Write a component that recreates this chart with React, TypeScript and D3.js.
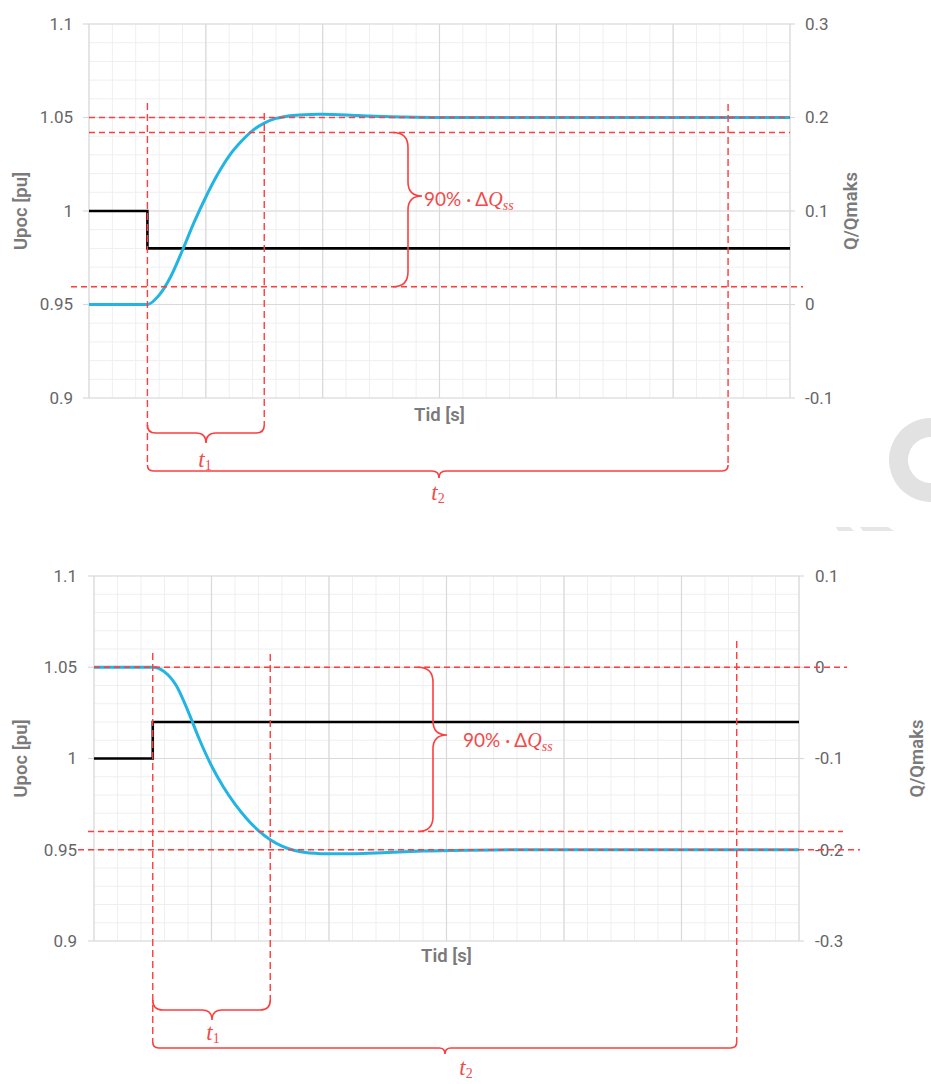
import React from 'react';
import * as d3 from 'd3';

// ---------- data ----------
const timeDomain = [0, 60];
const timeMajorStep = 10;
const timeMinorStep = 2;

const uDomain = [0.9, 1.1];
const uTicks = [0.9, 0.95, 1.0, 1.05, 1.1];
const uTickLabels = ['0.9', '0.95', '1', '1.05', '1.1'];

const qDomainTop = [-0.1, 0.3];
const qTicksTop = [-0.1, 0, 0.1, 0.2, 0.3];
const qTickLabelsTop = ['-0.1', '0', '0.1', '0.2', '0.3'];

const qDomainBottom = [-0.3, 0.1];
const qTicksBottom = [-0.3, -0.2, -0.1, 0, 0.1];
const qTickLabelsBottom = ['-0.3', '-0.2', '-0.1', '0', '0.1'];

const qTimeTop = [0, 5, 6, 7, 8, 9, 10, 11, 12, 13, 14, 15, 16, 17, 18, 19, 20, 22, 24, 27, 30, 60];
const qValTop = [0, 0, 0.01, 0.03, 0.058, 0.088, 0.115, 0.139, 0.159, 0.174, 0.186, 0.194, 0.199, 0.2015, 0.2028, 0.2033, 0.2034, 0.2028, 0.2015, 0.2005, 0.2, 0.2];
const uTimeTop = [0, 5, 5, 60];
const uValTop = [1.0, 1.0, 0.98, 0.98];

const qTimeBottom = [0, 5, 6, 7, 8, 9, 10, 11, 12, 13, 14, 15, 16, 17, 18, 19, 20, 22, 25, 28, 32, 36, 60];
const qValBottom = [0, 0, -0.005, -0.02, -0.048, -0.08, -0.108, -0.131, -0.15, -0.166, -0.179, -0.189, -0.196, -0.2005, -0.203, -0.204, -0.2045, -0.2045, -0.203, -0.2015, -0.2005, -0.2, -0.2];
const uTimeBottom = [0, 5, 5, 60];
const uValBottom = [1.0, 1.0, 1.02, 1.02];

const stepTime = 5;
const t1Time = 15;
const t2Time = 54.7;

const bandLevelsTop = [0.2, 0.184, 0.019];
const bandLevelsBottom = [0, -0.18, -0.2];

const bandLabelMain = '90% · Δ';
const bandLabelQ = 'Q';
const bandLabelSub = 'ss';
const xTitle = 'Tid [s]';
const yLeftTitle = 'Upoc [pu]';
const yRightTitle = 'Q/Qmaks';

// ---------- layout ----------
const RED = '#ff3d3d';
const RED_TEXT = '#f24a4a';
const BLUE = '#22b4e3';
const GRID_MINOR = '#efefef';
const GRID_MAJOR = '#d9d9d9';
const LABEL = '#666666';
const TITLE = '#7a7a7a';

type Layout = {
  x0: number; x1: number; y0: number; y1: number;
  qDomain: number[]; qTicks: number[]; qLabels: string[];
  qTime: number[]; qVal: number[]; uTime: number[]; uVal: number[];
  bands: number[];
  bandExt: [number, number][];
  vTop: number[];
  braceIdx: [number, number];
  brace: { xe: number; xs: number; xt: number; yt: number };
  bandText: { x: number; y: number };
  t1: { y: number; e: number; tip: number; xt: number; lx: number; ly: number };
  t2: { y: number; e: number; tip: number; xt: number; lx: number; ly: number };
  xTitleY: number; leftTitleX: number; rightTitleX: number; leftLabX: number; rightLabX: number;
};

const layouts: Layout[] = [
  {
    x0: 89, x1: 790, y0: 24, y1: 398,
    qDomain: qDomainTop, qTicks: qTicksTop, qLabels: qTickLabelsTop,
    qTime: qTimeTop, qVal: qValTop, uTime: uTimeTop, uVal: uValTop,
    bands: bandLevelsTop,
    bandExt: [[0, 0], [0, 0], [18, 13]],
    vTop: [79, 89, 80],
    braceIdx: [1, 2],
    brace: { xe: 393, xs: 408, xt: 422, yt: 196 },
    bandText: { x: 424, y: 206 },
    t1: { y: 433, e: 425, tip: 443, xt: 206, lx: 205, ly: 467 },
    t2: { y: 471, e: 465, tip: 478, xt: 439, lx: 438, ly: 500 },
    xTitleY: 421, leftTitleX: 27, rightTitleX: 857, leftLabX: 73, rightLabX: 805,
  },
  {
    x0: 94, x1: 799, y0: 576, y1: 941,
    qDomain: qDomainBottom, qTicks: qTicksBottom, qLabels: qTickLabelsBottom,
    qTime: qTimeBottom, qVal: qValBottom, uTime: uTimeBottom, uVal: uValBottom,
    bands: bandLevelsBottom,
    bandExt: [[0, 48], [6, 44], [16, 61]],
    vTop: [77, 78, 65],
    braceIdx: [0, 1],
    brace: { xe: 418, xs: 433, xt: 447, yt: 735 },
    bandText: { x: 463, y: 747 },
    t1: { y: 1010, e: 1000, tip: 1020, xt: 212, lx: 213, ly: 1040 },
    t2: { y: 1048, e: 1042, tip: 1054, xt: 445, lx: 466, ly: 1075 },
    xTitleY: 962, leftTitleX: 27, rightTitleX: 923, leftLabX: 77, rightLabX: 815,
  },
];

function hBrace(xa: number, xb: number, y: number, ye: number, xt: number, ytip: number) {
  const r = Math.abs(y - ye);
  const rt = Math.abs(ytip - y);
  return `M${xa},${ye} Q${xa},${y} ${xa + r},${y} L${xt - rt},${y} Q${xt},${y} ${xt},${ytip} Q${xt},${y} ${xt + rt},${y} L${xb - r},${y} Q${xb},${y} ${xb},${ye}`;
}
function vBrace(ya: number, yb: number, xe: number, xs: number, xt: number, yt: number) {
  const r = Math.abs(xs - xe);
  const rt = Math.abs(xt - xs);
  return `M${xe},${ya} Q${xs},${ya} ${xs},${ya + r} L${xs},${yt - rt} Q${xs},${yt} ${xt},${yt} Q${xs},${yt} ${xs},${yt + rt} L${xs},${yb - r} Q${xs},${yb} ${xe},${yb}`;
}

function Chart({ L }: { L: Layout }) {
  const x = d3.scaleLinear().domain(timeDomain).range([L.x0, L.x1]);
  const yU = d3.scaleLinear().domain(uDomain).range([L.y1, L.y0]);
  const yQ = d3.scaleLinear().domain(L.qDomain).range([L.y1, L.y0]);

  const minorX = d3.range(timeDomain[0], timeDomain[1] + 0.001, timeMinorStep);
  const majorX = d3.range(timeDomain[0], timeDomain[1] + 0.001, timeMajorStep);
  const minorU = d3.range(0, 21).map((i) => uDomain[0] + i * 0.01);

  const qLine = d3.line<number>().x((_, i) => x(L.qTime[i])).y((d) => yQ(d)).curve(d3.curveMonotoneX);
  const uLine = d3.line<number>().x((_, i) => x(L.uTime[i])).y((d) => yU(d));

  const vTimes = [stepTime, t1Time, t2Time];
  const vBottoms = [L.t2.e, L.t1.e, L.t2.e];

  const font = 'Roboto, Arial, sans-serif';

  return (
    <g>
      {minorX.map((t, i) => (
        <line key={'mx' + i} x1={x(t)} x2={x(t)} y1={L.y0} y2={L.y1} stroke={GRID_MINOR} strokeWidth={1} />
      ))}
      {minorU.map((u, i) => (
        <line key={'mu' + i} x1={L.x0} x2={L.x1} y1={yU(u)} y2={yU(u)} stroke={GRID_MINOR} strokeWidth={1} />
      ))}
      {majorX.map((t, i) => (
        <line key={'Mx' + i} x1={x(t)} x2={x(t)} y1={L.y0} y2={L.y1} stroke={GRID_MAJOR} strokeWidth={1.2} />
      ))}
      {uTicks.map((u, i) => (
        <line key={'Mu' + i} x1={L.x0} x2={L.x1} y1={yU(u)} y2={yU(u)} stroke={GRID_MAJOR} strokeWidth={1.2} />
      ))}
      {uTicks.map((u, i) => (
        <line key={'tl' + i} x1={L.x0 - 6} x2={L.x0} y1={yU(u)} y2={yU(u)} stroke={GRID_MAJOR} strokeWidth={1.2} />
      ))}
      {L.qTicks.map((q, i) => (
        <line key={'tr' + i} x1={L.x1} x2={L.x1 + 5} y1={yQ(q)} y2={yQ(q)} stroke={GRID_MAJOR} strokeWidth={1.2} />
      ))}
      {uTicks.map((u, i) => (
        <text key={'ll' + i} x={L.leftLabX} y={yU(u)} dy="0.35em" textAnchor="end" fontSize={17} fill={LABEL} fontFamily={font}>
          {uTickLabels[i]}
        </text>
      ))}
      {L.qTicks.map((q, i) => (
        <text key={'rl' + i} x={L.rightLabX} y={yQ(q)} dy="0.35em" textAnchor="start" fontSize={17} fill={LABEL} fontFamily={font}>
          {L.qLabels[i]}
        </text>
      ))}
      <text x={(L.x0 + L.x1) / 2} y={L.xTitleY} textAnchor="middle" fontSize={18.5} fontWeight={600} fill={TITLE} fontFamily={font}>
        {xTitle}
      </text>
      <text transform={`translate(${L.leftTitleX},${(L.y0 + L.y1) / 2}) rotate(-90)`} textAnchor="middle" fontSize={18.5} fontWeight={600} fill={TITLE} fontFamily={font}>
        {yLeftTitle}
      </text>
      <text transform={`translate(${L.rightTitleX},${(L.y0 + L.y1) / 2}) rotate(-90)`} textAnchor="middle" fontSize={18.5} fontWeight={600} fill={TITLE} fontFamily={font}>
        {yRightTitle}
      </text>

      <path d={uLine(L.uVal) || ''} fill="none" stroke="#000" strokeWidth={2.6} />
      <path d={qLine(L.qVal) || ''} fill="none" stroke={BLUE} strokeWidth={3} />

      {L.bands.map((q, i) => (
        <line key={'hb' + i} x1={L.x0 - L.bandExt[i][0]} x2={L.x1 + L.bandExt[i][1]} y1={yQ(q)} y2={yQ(q)} stroke={RED} strokeWidth={1.4} strokeDasharray="6 4" />
      ))}
      {vTimes.map((t, i) => (
        <line key={'vb' + i} x1={x(t)} x2={x(t)} y1={L.y0 + L.vTop[i]} y2={vBottoms[i]} stroke={RED} strokeWidth={1.4} strokeDasharray="7 4" />
      ))}
      <path d={vBrace(yQ(L.bands[L.braceIdx[0]]), yQ(L.bands[L.braceIdx[1]]), L.brace.xe, L.brace.xs, L.brace.xt, L.brace.yt)} fill="none" stroke={RED} strokeWidth={1.6} />
      <path d={hBrace(x(stepTime), x(t1Time), L.t1.y, L.t1.e, L.t1.xt, L.t1.tip)} fill="none" stroke={RED} strokeWidth={1.6} />
      <path d={hBrace(x(stepTime), x(t2Time), L.t2.y, L.t2.e, L.t2.xt, L.t2.tip)} fill="none" stroke={RED} strokeWidth={1.6} />

      <text x={L.bandText.x} y={L.bandText.y} fontSize={19} fill={RED_TEXT} fontFamily="Lato, 'Open Sans', sans-serif">
        {bandLabelMain}
        <tspan fontFamily="'Liberation Serif', serif" fontStyle="italic" fontSize={20}>{bandLabelQ}</tspan>
        <tspan fontFamily="'Liberation Serif', serif" fontStyle="italic" fontSize={14} dy={4}>{bandLabelSub}</tspan>
      </text>
      <text x={L.t1.lx} y={L.t1.ly} textAnchor="middle" fill={RED_TEXT} fontFamily="'Liberation Serif', serif">
        <tspan fontStyle="italic" fontSize={23}>t</tspan>
        <tspan fontSize={14} dy={3}>1</tspan>
      </text>
      <text x={L.t2.lx} y={L.t2.ly} textAnchor="middle" fill={RED_TEXT} fontFamily="'Liberation Serif', serif">
        <tspan fontStyle="italic" fontSize={23}>t</tspan>
        <tspan fontSize={14} dy={3}>2</tspan>
      </text>
    </g>
  );
}

export default function App() {
  const arc = d3.arc()({ innerRadius: 23, outerRadius: 42, startAngle: Math.PI * 0.88, endAngle: Math.PI * 2 } as any) || '';
  return (
    <svg width={931} height={1084} viewBox="0 0 931 1084" style={{ position: 'absolute', left: 0, top: 0, background: '#fff' }}>
      <rect x={0} y={0} width={931} height={1084} fill="#fff" />
      <path d={arc} transform="translate(931,460)" fill="#e2e2e2" />
      <path d="M836,527 L850,527 L854,531 L838,531 Z" fill="#e6e6e6" />
      <path d="M860,527 L888,527 L894,531 L863,531 Z" fill="#e6e6e6" />
      {layouts.map((L, i) => (
        <Chart key={i} L={L} />
      ))}
    </svg>
  );
}
